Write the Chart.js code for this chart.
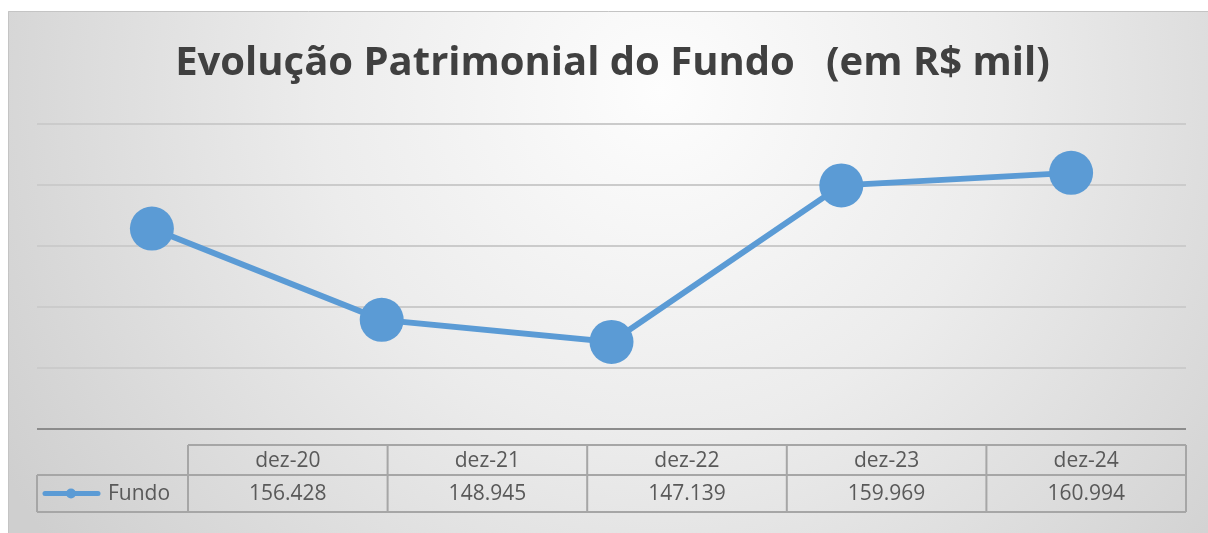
<!DOCTYPE html>
<html>
<head>
<meta charset="utf-8">
<script src="https://cdn.jsdelivr.net/npm/chart.js@4/dist/chart.umd.min.js"></script>
<style>
html,body{margin:0;padding:0;background:#fff;}
#wrap{position:absolute;left:0;top:0;width:1208px;height:533px;}
</style>
</head>
<body>
<div id="wrap"><canvas id="c" width="1208" height="533"></canvas></div>
<script>
const categories = ['dez-20', 'dez-21', 'dez-22', 'dez-23', 'dez-24'];
const fundoValues = [156.428, 148.945, 147.139, 159.969, 160.994];
const valueLabels = ['156.428', '148.945', '147.139', '159.969', '160.994'];
const seriesName = 'Fundo';
const titleText = 'Evolução Patrimonial do Fundo   (em R$ mil)';
const yMin = 140, yMax = 165, yStep = 5;

const BLUE = '#5b9bd5';
const TXT = '#595959';

const bgPlugin = {
  id: 'bg',
  beforeDraw(chart) {
    const ctx = chart.ctx;
    ctx.save();
    ctx.fillStyle = '#ffffff';
    ctx.fillRect(0, 0, chart.width, chart.height);
    const g = ctx.createRadialGradient(660, 90, 0, 660, 90, 760);
    g.addColorStop(0, '#fdfdfd');
    g.addColorStop(0.45, '#ececec');
    g.addColorStop(1, '#cfcfcf');
    ctx.fillStyle = g;
    ctx.fillRect(8, 11, chart.width - 8, chart.height - 11);
    ctx.strokeStyle = '#c4c4c4';
    ctx.lineWidth = 1;
    ctx.beginPath();
    ctx.moveTo(8.5, chart.height);
    ctx.lineTo(8.5, 11.5);
    ctx.lineTo(chart.width, 11.5);
    ctx.stroke();
    ctx.restore();
  }
};

const tablePlugin = {
  id: 'dataTable',
  afterDraw(chart) {
    const ctx = chart.ctx;
    const a = chart.chartArea;
    const left = a.left, right = a.right;
    const legendW = 151;
    const n = categories.length;
    const colW = (right - left - legendW) / n;
    const y0 = a.bottom + 16, y1 = a.bottom + 46, y2 = a.bottom + 83;
    ctx.save();
    ctx.strokeStyle = '#a6a6a6';
    ctx.lineWidth = 2;
    ctx.beginPath();
    ctx.moveTo(left + legendW, y0); ctx.lineTo(right, y0);
    ctx.moveTo(left, y1); ctx.lineTo(right, y1);
    ctx.moveTo(left, y2); ctx.lineTo(right, y2);
    ctx.moveTo(left, y1); ctx.lineTo(left, y2);
    for (let i = 0; i <= n; i++) {
      const x = left + legendW + i * colW;
      ctx.moveTo(x, y0); ctx.lineTo(x, y2);
    }
    ctx.stroke();
    ctx.fillStyle = TXT;
    ctx.font = '21px "Open Sans", sans-serif';
    ctx.textAlign = 'center';
    ctx.textBaseline = 'middle';
    for (let i = 0; i < n; i++) {
      const cx = left + legendW + (i + 0.5) * colW;
      ctx.fillText(categories[i], cx, (y0 + y1) / 2 + 1);
      ctx.fillText(valueLabels[i], cx, (y1 + y2) / 2 + 1);
    }
    const ly = (y1 + y2) / 2;
    ctx.strokeStyle = BLUE;
    ctx.lineWidth = 5;
    ctx.lineCap = 'round';
    ctx.beginPath();
    ctx.moveTo(left + 8, ly); ctx.lineTo(left + 61, ly);
    ctx.stroke();
    ctx.fillStyle = BLUE;
    ctx.beginPath();
    ctx.arc(left + 34, ly, 5, 0, Math.PI * 2);
    ctx.fill();
    ctx.fillStyle = TXT;
    ctx.textAlign = 'left';
    ctx.fillText(seriesName, left + 71, ly + 1);
    ctx.restore();
  }
};

new Chart(document.getElementById('c'), {
  type: 'line',
  data: {
    labels: categories,
    datasets: [{
      label: seriesName,
      data: fundoValues,
      borderColor: BLUE,
      backgroundColor: BLUE,
      borderWidth: 6,
      pointRadius: 22,
      pointHoverRadius: 22,
      pointBorderWidth: 0,
      pointBackgroundColor: BLUE,
      tension: 0,
      clip: false
    }]
  },
  options: {
    responsive: false,
    animation: false,
    events: [],
    layout: { padding: { left: 37, right: 20, top: 0, bottom: 104 } },
    plugins: {
      legend: { display: false },
      tooltip: { enabled: false },
      title: {
        display: true,
        text: titleText,
        color: '#404040',
        font: { family: '"Open Sans", sans-serif', size: 40, weight: 'bold', lineHeight: 1.2 },
        padding: { top: 40, bottom: 36 }
      }
    },
    scales: {
      x: {
        display: false,
        offset: true
      },
      y: {
        display: true,
        min: yMin,
        max: yMax,
        ticks: { display: false, stepSize: yStep },
        border: { display: false },
        grid: {
          drawTicks: false,
          lineWidth: 2,
          color: (c) => (c.tick && c.tick.value === yMin) ? '#8c8c8c' : '#cbcbcb'
        }
      }
    }
  },
  plugins: [bgPlugin, tablePlugin]
});
</script>
</body>
</html>
